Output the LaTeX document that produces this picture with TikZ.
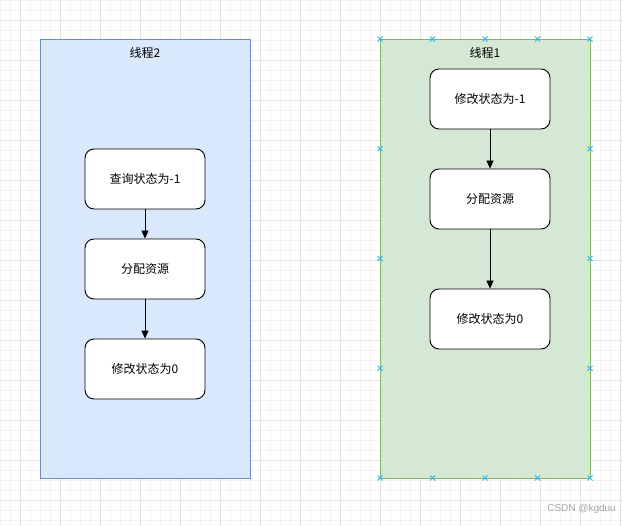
\documentclass[tikz,border=0pt]{standalone}
\usepackage{fontspec}
\newfontfamily\cjk{Noto Sans CJK SC}
\usetikzlibrary{arrows.meta}
\definecolor{bluefill}{HTML}{DAE8FC}
\definecolor{bluestroke}{HTML}{6C8EBF}
\definecolor{greenfill}{HTML}{D5E8D4}
\definecolor{greenstroke}{HTML}{82B366}
\definecolor{minorgrid}{HTML}{F3F3F3}
\definecolor{majorgrid}{HTML}{E4E4E4}
\definecolor{handle}{HTML}{29B6F2}
\begin{document}
\begin{tikzpicture}[x=1pt,y=-1pt,
  lane/.style={draw, line width=0.8pt, minimum width=210pt, minimum height=439pt, inner sep=0pt, outer sep=0pt},
  stepbox/.style={draw=black, fill=white, line width=0.9pt, rounded corners=9pt, minimum width=120pt, minimum height=60pt, inner sep=0pt, font=\cjk\fontsize{12}{14}\selectfont},
  title/.style={font=\cjk\fontsize{12}{14}\selectfont, inner sep=0pt},
  conn/.style={draw=black, line width=0.9pt, -{Triangle[length=8pt,width=7pt]}}]
\useasboundingbox (0,0) rectangle (623,526);
\fill[white] (0,0) rectangle (623,526);
\foreach \i in {0,...,62} {\draw[minorgrid, line width=0.6pt] (\i*10,0) -- (\i*10,526);}
\foreach \j in {0,...,52} {\draw[minorgrid, line width=0.6pt] (0,\j*10) -- (623,\j*10);}
\foreach \i in {0,...,15} {\draw[majorgrid, line width=0.8pt] (20+\i*40,0) -- (20+\i*40,526);}
\foreach \j in {0,...,12} {\draw[majorgrid, line width=0.8pt] (0,20+\j*40) -- (623,20+\j*40);}

% left lane
\node[lane, draw=bluestroke, fill=bluefill, anchor=north west] (laneL) at (40,39) {};
\node[title] (tL) at (145,53) {线程2};
\node[stepbox] (a1) at (145,179) {查询状态为-1};
\node[stepbox] (a2) at (145,269) {分配资源};
\node[stepbox] (a3) at (145,369) {修改状态为0};
\draw[conn] (a1) -- (a2);
\draw[conn] (a2) -- (a3);

% right lane
\node[lane, draw=greenstroke, fill=greenfill, anchor=north west] (laneR) at (380,39) {};
\node[title] (tR) at (485,53) {线程1};
\node[stepbox] (b1) at (490,99) {修改状态为-1};
\node[stepbox] (b2) at (490,199) {分配资源};
\node[stepbox] (b3) at (490,319) {修改状态为0};
\draw[conn] (b1) -- (b2);
\draw[conn] (b2) -- (b3);

% selection handles
\foreach \hx in {380,432.5,485,537.5,590} {
  \foreach \hy in {39,478} {
    \draw[handle, line width=0.9pt] (\hx-2.5,\hy-2.5) -- (\hx+2.5,\hy+2.5) (\hx-2.5,\hy+2.5) -- (\hx+2.5,\hy-2.5);
  }
}
\foreach \hx in {380,590} {
  \foreach \hy in {148.75,258.5,368.25} {
    \draw[handle, line width=0.9pt] (\hx-2.5,\hy-2.5) -- (\hx+2.5,\hy+2.5) (\hx-2.5,\hy+2.5) -- (\hx+2.5,\hy-2.5);
  }
}

\node[font=\fontspec{Liberation Sans}\fontsize{10}{12}\selectfont, text=gray!70, anchor=east, inner sep=0pt] (wm) at (616,509) {CSDN @kgduu};
\end{tikzpicture}
\end{document}
